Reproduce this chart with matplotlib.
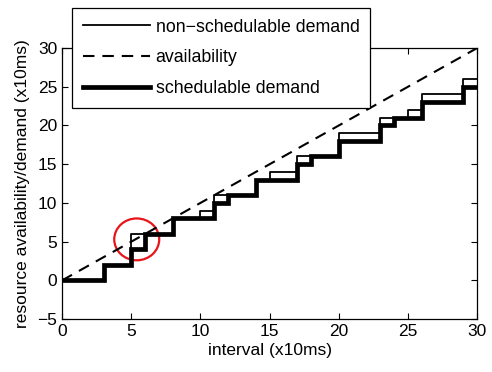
import matplotlib
matplotlib.use("Agg")
import matplotlib.pyplot as plt
from matplotlib.patches import Ellipse

plt.rcParams['font.family'] = ['Liberation Sans', 'DejaVu Sans']

# non-schedulable demand (step changes)
nonsched_x = [0, 3, 5, 8, 10, 11, 14, 15, 17, 20, 23, 25, 26, 29, 30]
nonsched_y = [0, 2, 6, 8, 9, 11, 13, 14, 16, 19, 21, 22, 24, 26, 26]
# availability
avail_x = [0, 30]
avail_y = [0, 30]
# schedulable demand
sched_x = [0, 3, 5, 6, 8, 11, 12, 14, 17, 18, 20, 23, 24, 26, 29, 30]
sched_y = [0, 2, 4, 6, 8, 10, 11, 13, 15, 16, 18, 20, 21, 23, 25, 25]

xticks = [0, 5, 10, 15, 20, 25, 30]
yticks = [-5, 0, 5, 10, 15, 20, 25, 30]

fig = plt.figure(figsize=(4.92, 3.72), dpi=100)
ax = fig.add_axes([0.126, 0.142, 0.844, 0.729])

ax.plot(nonsched_x, nonsched_y, drawstyle='steps-post', color='black', lw=1.3,
        label='non\u2212schedulable demand')
ax.plot(avail_x, avail_y, color='black', lw=1.5, linestyle=(0, (5.5, 3.8)),
        label='availability')
ax.plot(sched_x, sched_y, drawstyle='steps-post', color='black', lw=3.4,
        solid_joinstyle='miter', label='schedulable demand')

ax.add_patch(Ellipse((5.4, 5.3), 3.25, 5.4, fill=False, edgecolor='#e8141b', lw=1.6))

ax.set_xlim(0, 30)
ax.set_ylim(-5, 30)
ax.set_xticks(xticks)
ax.set_yticks(yticks)
ax.tick_params(direction='in', top=True, right=True, length=4, labelsize=12.5, width=0.8)
for s in ax.spines.values():
    s.set_linewidth(0.9)
ax.set_xlabel('interval (x10ms)', fontsize=12.5, labelpad=3)
ax.set_ylabel('resource availability/demand (x10ms)', fontsize=12.5, labelpad=5)

leg = ax.legend(loc='upper left', bbox_to_anchor=(0.024, 1.148), fontsize=12.8,
                handlelength=3.8, labelspacing=0.78, borderpad=0.6, borderaxespad=0,
                handletextpad=0.3, frameon=True, fancybox=False, framealpha=1)
leg.get_frame().set_edgecolor('black')
leg.get_frame().set_linewidth(0.9)

fig.savefig('out.png', dpi=100)
